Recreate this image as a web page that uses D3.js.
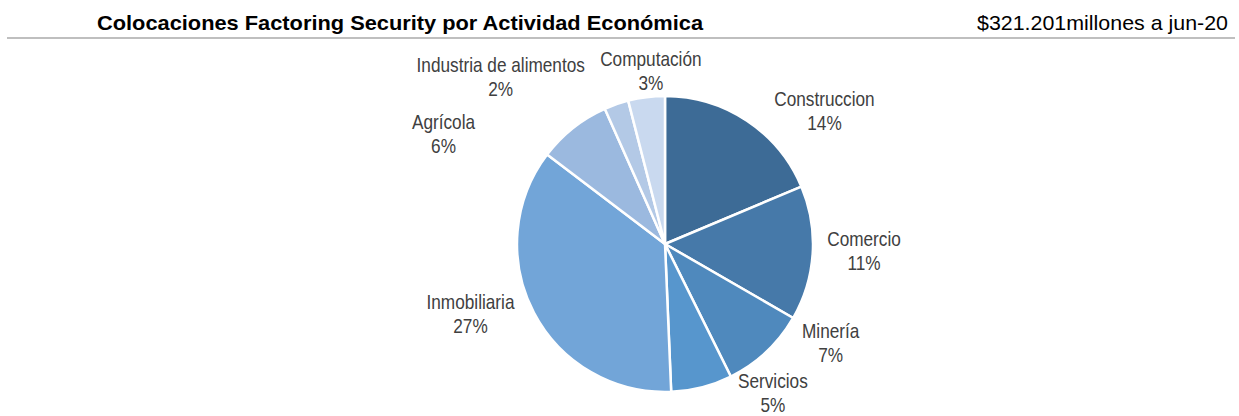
<!DOCTYPE html>
<html><head><meta charset="utf-8">
<script src="https://cdn.jsdelivr.net/npm/d3@7"></script>
<style>
html,body{margin:0;padding:0;background:#fff;}
svg{display:block;}
</style></head>
<body>
<svg id="chart" width="1239" height="416"></svg>
<script>
// ---- data ----
const categories = ["Construccion","Comercio","Minería","Servicios","Inmobiliaria","Agrícola","Industria de alimentos","Computación"];
const shares = [14, 11, 7, 5, 27, 6, 2, 3];
const pctLabels = ["14%","11%","7%","5%","27%","6%","2%","3%"];
const colors = ["#3d6b96","#4679a9","#4f89bd","#5796cd","#72a5d8","#9bb9df","#b3c9e6","#c9d9ef"];
const titleText = "Colocaciones Factoring Security por Actividad Económica";
const subText = "$321.201millones a jun-20";

// ---- layout (not data) ----
const labelNudge = {
  "Construccion":[53,26], "Comercio":[7,-6], "Minería":[34,-42], "Servicios":[60,-38],
  "Inmobiliaria":[-24,-20], "Agrícola":[-102,40], "Industria de alimentos":[-101,14], "Computación":[10,17]
};
const FONT = "'Liberation Sans',Arial,sans-serif";
const NARROW = 0.82;
const cx = 665, cy = 244, R = 148;

const svg = d3.select("#chart");

svg.append("text").attr("x", 97).attr("y", 30)
  .attr("font-family", FONT).attr("font-weight", "bold").attr("font-size", 21)
  .attr("textLength", 606).attr("lengthAdjust", "spacingAndGlyphs")
  .attr("fill", "#000").text(titleText);
svg.append("text").attr("x", 977).attr("y", 30)
  .attr("font-family", FONT).attr("font-size", 21)
  .attr("textLength", 251).attr("lengthAdjust", "spacingAndGlyphs")
  .attr("fill", "#000").text(subText);
svg.append("line").attr("x1", 7).attr("x2", 1235).attr("y1", 38).attr("y2", 38)
  .attr("stroke", "#bfbfbf").attr("stroke-width", 2);

const data = categories.map((c, i) => ({cat: c, v: shares[i], pct: pctLabels[i], color: colors[i]}));
const pie = d3.pie().value(d => d.v).sort(null);
const arcs = pie(data);
const arc = d3.arc().innerRadius(0).outerRadius(R);
const g = svg.append("g").attr("transform", `translate(${cx},${cy})`);
g.selectAll("path").data(arcs).join("path")
  .attr("d", arc).attr("fill", d => d.data.color)
  .attr("stroke", "#fff").attr("stroke-width", 2.5).attr("stroke-linejoin", "round");

const labelArc = d3.arc().innerRadius(R * 1.3).outerRadius(R * 1.3);
const lab = g.selectAll("g.lab").data(arcs).join("g").attr("class", "lab")
  .attr("transform", d => {
    const [x, y] = labelArc.centroid(d);
    const n = labelNudge[d.data.cat] || [0, 0];
    return `translate(${x + n[0]},${y + n[1]}) scale(${NARROW},1)`;
  });
lab.append("text").attr("text-anchor", "middle").attr("y", -4)
  .attr("font-family", FONT).attr("font-size", 21).attr("fill", "#404040")
  .text(d => d.data.cat);
lab.append("text").attr("text-anchor", "middle").attr("y", 20)
  .attr("font-family", FONT).attr("font-size", 21).attr("fill", "#404040")
  .text(d => d.data.pct);
</script>
</body></html>
